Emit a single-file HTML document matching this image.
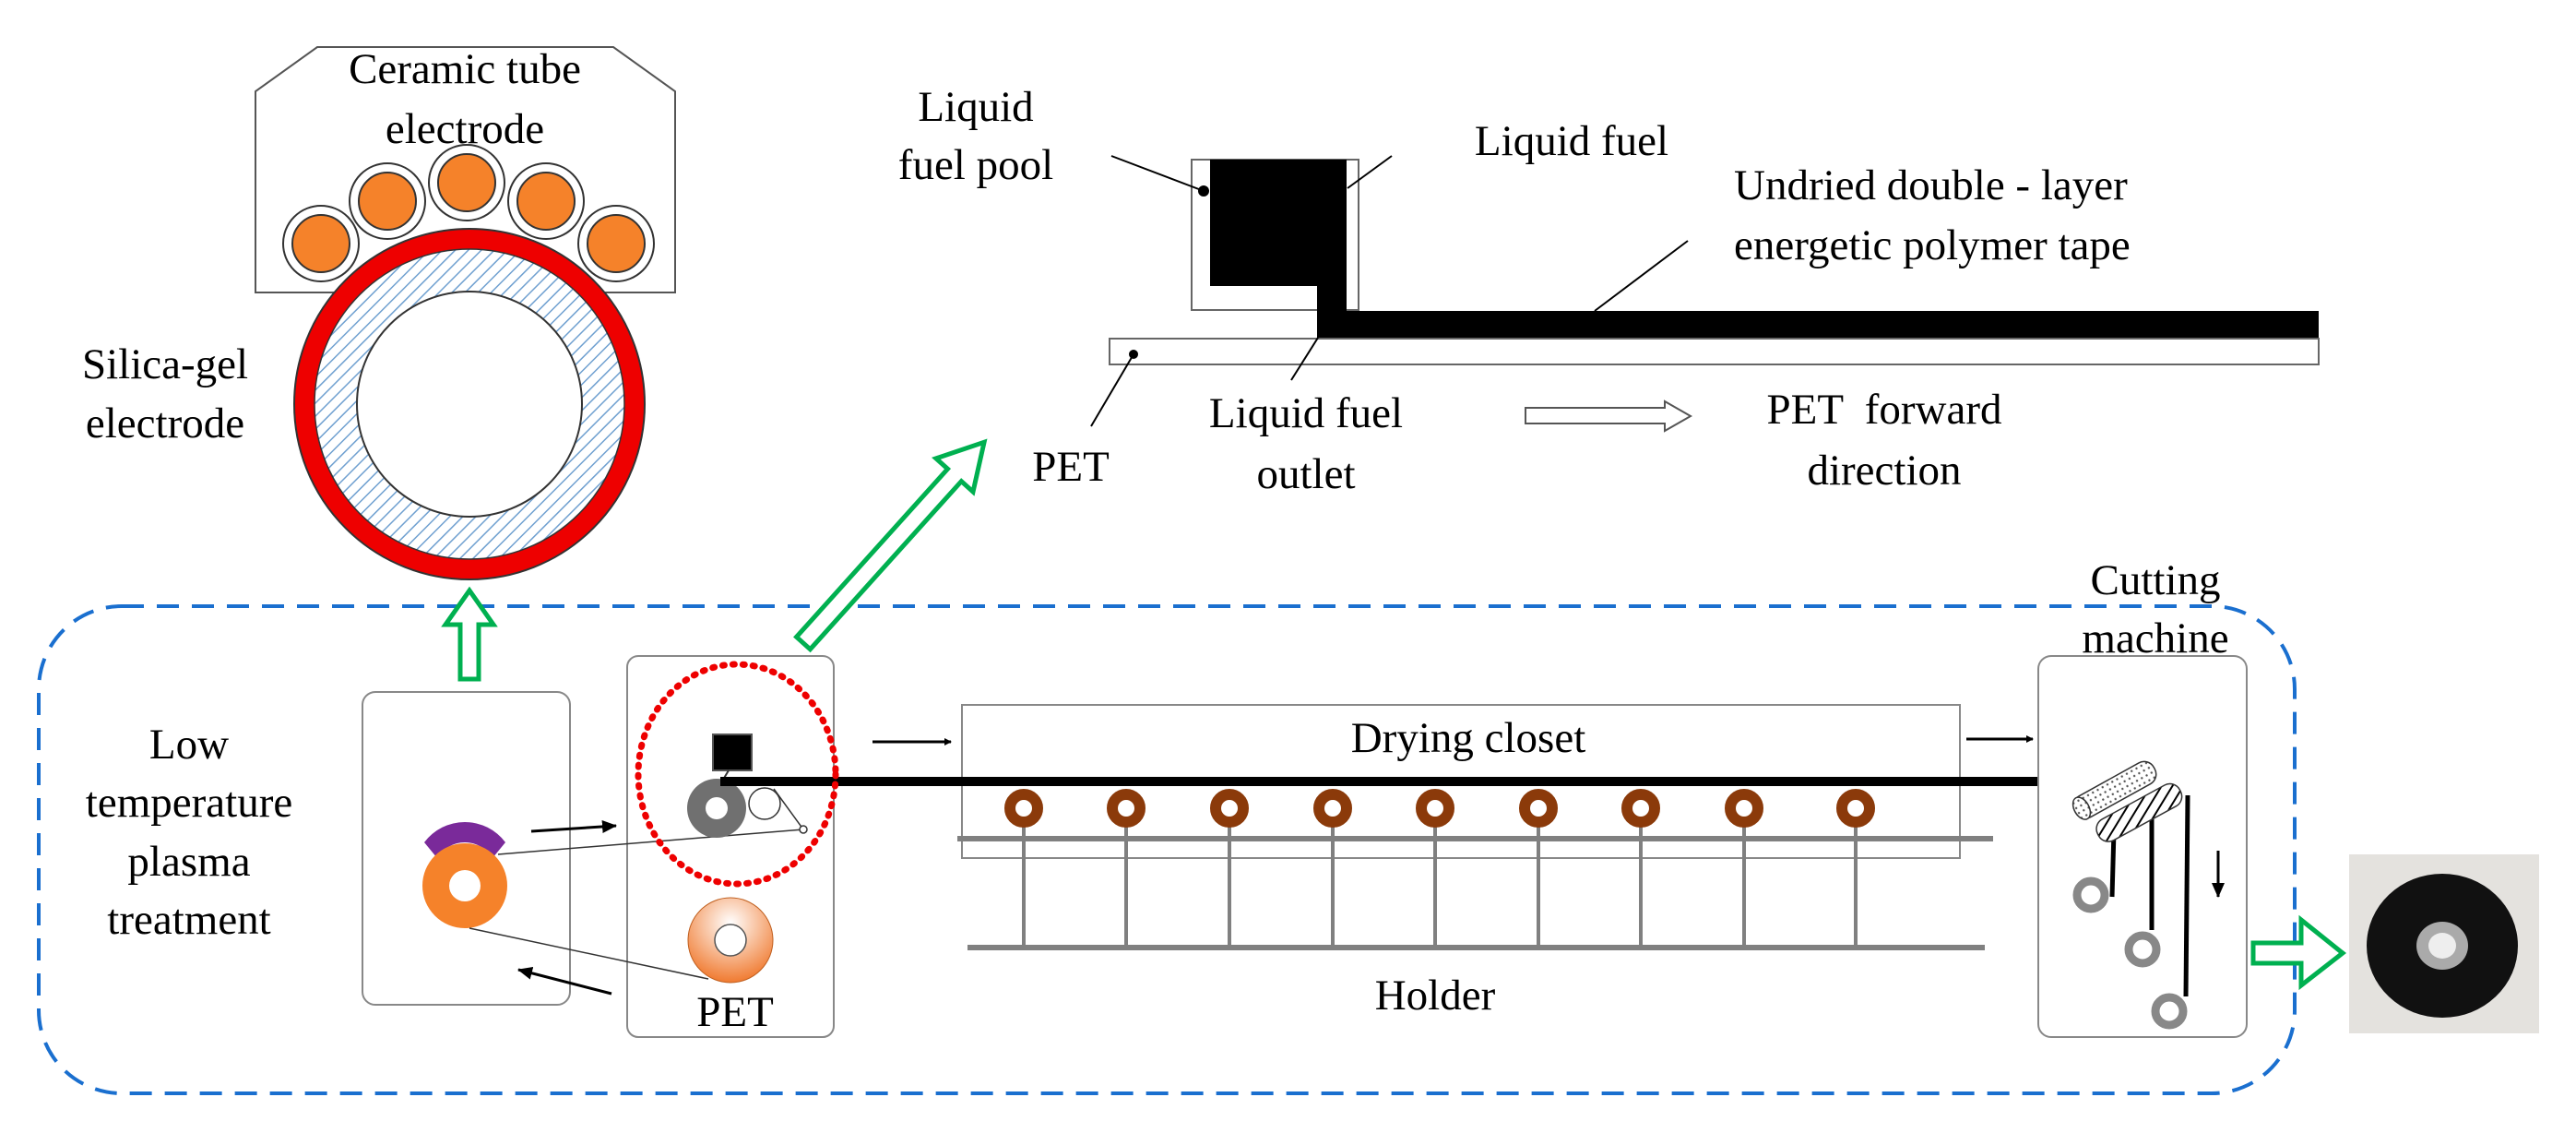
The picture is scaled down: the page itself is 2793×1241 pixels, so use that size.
<!DOCTYPE html>
<html><head><meta charset="utf-8"><style>
html,body{margin:0;padding:0;background:#fff;}
svg{display:block;}
svg text{font-family:"Liberation Serif","Times New Roman",serif !important;font-size:47px;fill:#000;}
</style></head><body>
<svg width="2793" height="1241" viewBox="0 0 2793 1241" xmlns="http://www.w3.org/2000/svg" font-family="Liberation Serif, serif">
<defs>
<pattern id="hatch" width="10" height="10" patternUnits="userSpaceOnUse" patternTransform="rotate(45)">
<rect width="10" height="10" fill="#fff"/><line x1="0" y1="0" x2="0" y2="10" stroke="#6fa0d0" stroke-width="3"/></pattern>
<pattern id="dots" width="6" height="6" patternUnits="userSpaceOnUse"><rect width="6" height="6" fill="#fff"/><circle cx="3" cy="3" r="1.2" fill="#555"/></pattern>
<pattern id="bh" width="10" height="10" patternUnits="userSpaceOnUse" patternTransform="rotate(60)"><rect width="10" height="10" fill="#fff"/><line x1="0" y1="0" x2="0" y2="10" stroke="#000" stroke-width="4"/></pattern>
<radialGradient id="petg" cx="0.5" cy="0.3" r="0.7"><stop offset="0" stop-color="#fff"/><stop offset="1" stop-color="#f07a30"/></radialGradient>
<marker id="ah" markerWidth="8" markerHeight="8" refX="7" refY="4" orient="auto" markerUnits="userSpaceOnUse"><path d="M0,0 L8,4 L0,8 z" fill="#000"/></marker>
<marker id="ah2" markerWidth="16" markerHeight="14" refX="15" refY="7" orient="auto" markerUnits="userSpaceOnUse"><path d="M0,0 L16,7 L0,14 z" fill="#000"/></marker>
</defs>

<polygon points="344,51 665,51 732,99 732,317 277,317 277,99" fill="#fff" stroke="#555" stroke-width="2"/>
<text x="504" y="90" text-anchor="middle">Ceramic tube</text>
<text x="504" y="155" text-anchor="middle">electrode</text>
<g stroke="#333" stroke-width="2">
<circle cx="348" cy="264" r="41" fill="#fff"/><circle cx="348" cy="264" r="31" fill="#f5822a"/>
<circle cx="420" cy="218" r="41" fill="#fff"/><circle cx="420" cy="218" r="31" fill="#f5822a"/>
<circle cx="506" cy="198" r="41" fill="#fff"/><circle cx="506" cy="198" r="31" fill="#f5822a"/>
<circle cx="592" cy="218" r="41" fill="#fff"/><circle cx="592" cy="218" r="31" fill="#f5822a"/>
<circle cx="668" cy="264" r="41" fill="#fff"/><circle cx="668" cy="264" r="31" fill="#f5822a"/>
</g>
<circle cx="509" cy="438" r="190" fill="#ee0000" stroke="#333" stroke-width="2"/>
<circle cx="509" cy="438" r="168" fill="url(#hatch)" stroke="#333" stroke-width="1.5"/>
<circle cx="509" cy="438" r="122" fill="#fff" stroke="#333" stroke-width="2"/>
<text x="179" y="410" text-anchor="middle">Silica-gel</text>
<text x="179" y="474" text-anchor="middle">electrode</text>

<rect x="42" y="657" width="2446" height="528" rx="90" ry="90" fill="none" stroke="#1a6fcf" stroke-width="4" stroke-dasharray="24,14"/>

<polygon points="499,736 519,736 519,677 535,677 509,640 483,677 499,677" fill="#fff" stroke="#00b050" stroke-width="5"/>
<g transform="translate(871,697) rotate(-48)">
<polygon points="0,-10 245,-10 245,-27 293,0 245,27 245,10 0,10" fill="#fff" stroke="#00b050" stroke-width="5"/>
</g>

<text x="205" y="822" text-anchor="middle">Low</text>
<text x="205" y="885" text-anchor="middle">temperature</text>
<text x="205" y="949" text-anchor="middle">plasma</text>
<text x="205" y="1012" text-anchor="middle">treatment</text>

<rect x="393" y="750" width="225" height="339" rx="14" fill="#fff" stroke="#888" stroke-width="2"/>
<path d="M460,913 A55,55 0 0 1 548,913 L534,930 A35,35 0 0 0 474,930 Z" fill="#7a2a9a"/>
<circle cx="504" cy="960" r="46" fill="#f5822a"/><circle cx="504" cy="960" r="17" fill="#fff"/>
<rect x="680" y="711" width="224" height="413" rx="12" fill="#fff" stroke="#888" stroke-width="2"/>
<line x1="540" y1="926" x2="871" y2="899" stroke="#333" stroke-width="1.5"/>
<line x1="509" y1="1006" x2="768" y2="1061" stroke="#333" stroke-width="1.5"/>
<line x1="839" y1="855" x2="871" y2="899" stroke="#333" stroke-width="1.5"/>
<circle cx="871" cy="899" r="4" fill="#fff" stroke="#333" stroke-width="1.5"/>
<line x1="576" y1="901" x2="668" y2="895" stroke="#000" stroke-width="3" marker-end="url(#ah2)"/>
<line x1="663" y1="1077" x2="562" y2="1051" stroke="#000" stroke-width="3" marker-end="url(#ah2)"/>
<rect x="773" y="796" width="42" height="39" fill="#000" stroke="#555" stroke-width="2"/>
<line x1="790" y1="835" x2="781" y2="850" stroke="#333" stroke-width="2"/>
<circle cx="777" cy="876" r="32" fill="#707070"/><circle cx="777" cy="876" r="12" fill="#fff"/>
<circle cx="829" cy="871" r="17" fill="#fff" stroke="#333" stroke-width="1.5"/>
<circle cx="792" cy="1019" r="46" fill="url(#petg)" stroke="#c06020" stroke-width="1"/><circle cx="792" cy="1019" r="17" fill="#fff" stroke="#555" stroke-width="1.5"/>
<text x="797" y="1112" text-anchor="middle">PET</text>

<rect x="1043" y="764" width="1082" height="166" fill="#fff" stroke="#888" stroke-width="2"/>
<text x="1592" y="815" text-anchor="middle">Drying closet</text>
<line x1="946" y1="804" x2="1031" y2="804" stroke="#000" stroke-width="3" marker-end="url(#ah)"/>
<line x1="2132" y1="801" x2="2204" y2="801" stroke="#000" stroke-width="3" marker-end="url(#ah)"/>
<rect x="781" y="842" width="1512" height="10" fill="#000"/>
<g stroke="#808080" stroke-width="4">
<line x1="1038" y1="909" x2="2161" y2="909" stroke-width="6"/>
<line x1="1049" y1="1027" x2="2152" y2="1027" stroke-width="6"/>
<line x1="1110" y1="876" x2="1110" y2="1027"/><line x1="1221" y1="876" x2="1221" y2="1027"/>
<line x1="1333" y1="876" x2="1333" y2="1027"/><line x1="1445" y1="876" x2="1445" y2="1027"/>
<line x1="1556" y1="876" x2="1556" y2="1027"/><line x1="1668" y1="876" x2="1668" y2="1027"/>
<line x1="1779" y1="876" x2="1779" y2="1027"/><line x1="1891" y1="876" x2="1891" y2="1027"/>
<line x1="2012" y1="876" x2="2012" y2="1027"/>
</g>
<g fill="#fff" stroke="#8b3a0a" stroke-width="12">
<circle cx="1110" cy="876" r="15"/><circle cx="1221" cy="876" r="15"/><circle cx="1333" cy="876" r="15"/>
<circle cx="1445" cy="876" r="15"/><circle cx="1556" cy="876" r="15"/><circle cx="1668" cy="876" r="15"/>
<circle cx="1779" cy="876" r="15"/><circle cx="1891" cy="876" r="15"/><circle cx="2012" cy="876" r="15"/>
</g>
<text x="1556" y="1094" text-anchor="middle">Holder</text>

<ellipse cx="799" cy="839" rx="107" ry="119" fill="none" stroke="#ee0000" stroke-width="7" stroke-dasharray="2,9" stroke-linecap="round"/>

<rect x="2210" y="711" width="226" height="413" rx="14" fill="#fff" stroke="#888" stroke-width="2"/>
<text x="2337" y="644" text-anchor="middle">Cutting</text>
<text x="2337" y="707" text-anchor="middle">machine</text>
<g stroke="#000" stroke-width="5">
<line x1="2292" y1="900" x2="2290" y2="972"/>
<line x1="2333" y1="878" x2="2333" y2="1008"/>
<line x1="2372" y1="862" x2="2370" y2="1080"/>
</g>
<g transform="translate(2275,905) rotate(-28.6)">
<rect x="0" y="-13" width="101" height="26" rx="12" fill="url(#bh)" stroke="#333" stroke-width="1.5"/></g>
<g transform="translate(2250,880) rotate(-29)">
<rect x="0" y="-13" width="98" height="26" rx="12" fill="url(#dots)" stroke="#333" stroke-width="1.5"/>
<ellipse cx="8" cy="0" rx="8" ry="13" fill="url(#dots)" stroke="#333" stroke-width="1.5"/></g>
<g fill="#fff" stroke="#888" stroke-width="9">
<circle cx="2267" cy="970" r="15"/><circle cx="2323" cy="1029" r="15"/><circle cx="2352" cy="1096" r="15"/>
</g>
<line x1="2405" y1="922" x2="2405" y2="972" stroke="#000" stroke-width="3" marker-end="url(#ah2)"/>
<polygon points="2443,1022 2495,1022 2495,997 2540,1033 2495,1068 2495,1044 2443,1044" fill="#fff" stroke="#00b050" stroke-width="5"/>
<rect x="2547" y="926" width="206" height="194" fill="#e4e2de"/>
<ellipse cx="2648" cy="1025" rx="82" ry="78" fill="#111"/>
<ellipse cx="2648" cy="1025" rx="28" ry="26" fill="#aaa"/>
<ellipse cx="2648" cy="1025" rx="15" ry="14" fill="#eee"/>

<rect x="1292" y="173" width="181" height="163" fill="#fff" stroke="#666" stroke-width="2"/>
<rect x="1203" y="367" width="1311" height="28" fill="#fff" stroke="#666" stroke-width="2"/>
<rect x="1312" y="173" width="148" height="137" fill="#000"/>
<rect x="1428" y="305" width="32" height="40" fill="#000"/>
<rect x="1428" y="337" width="1086" height="29" fill="#000"/>
<circle cx="1305" cy="207" r="6" fill="#000"/>
<line x1="1205" y1="169" x2="1305" y2="207" stroke="#000" stroke-width="2"/>
<text x="1058" y="131" text-anchor="middle">Liquid</text>
<text x="1058" y="194" text-anchor="middle">fuel pool</text>
<line x1="1509" y1="169" x2="1461" y2="204" stroke="#000" stroke-width="2"/>
<text x="1704" y="168" text-anchor="middle">Liquid fuel</text>
<line x1="1830" y1="261" x2="1729" y2="337" stroke="#000" stroke-width="2"/>
<text x="1880" y="216">Undried double - layer</text>
<text x="1880" y="281">energetic polymer tape</text>
<circle cx="1229" cy="384" r="5" fill="#000"/>
<line x1="1229" y1="384" x2="1183" y2="462" stroke="#000" stroke-width="2"/>
<text x="1161" y="521" text-anchor="middle">PET</text>
<line x1="1429" y1="366" x2="1400" y2="412" stroke="#000" stroke-width="2"/>
<text x="1416" y="463" text-anchor="middle">Liquid fuel</text>
<text x="1416" y="529" text-anchor="middle">outlet</text>
<polygon points="1654,442 1805,442 1805,435 1833,451 1805,467 1805,459 1654,459" fill="#fff" stroke="#555" stroke-width="2"/>
<text x="2043" y="459" text-anchor="middle" xml:space="preserve">PET  forward</text>
<text x="2043" y="525" text-anchor="middle">direction</text>
</svg>
</body></html>
